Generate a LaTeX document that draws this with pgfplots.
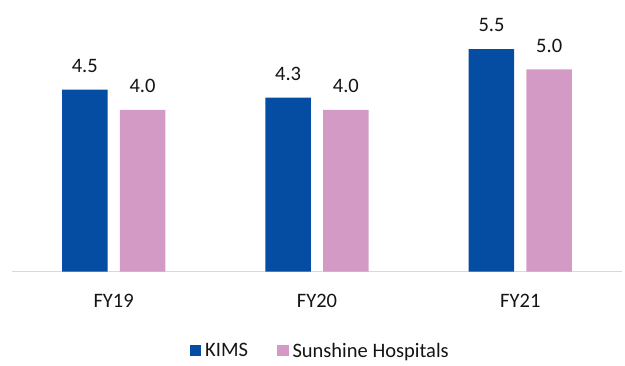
\documentclass[border=0pt]{standalone}
\usepackage{fontspec}
\setmainfont{Carlito}
\usepackage{pgfplots}
\pgfplotsset{compat=1.18}
\definecolor{kims}{RGB}{4,77,162}
\definecolor{sun}{RGB}{212,154,198}
\definecolor{axgray}{RGB}{217,217,217}
\definecolor{txt}{RGB}{20,20,20}
\begin{document}
\begin{tikzpicture}[x=1pt,y=1pt]
\path[use as bounding box] (0,0) rectangle (625,365);
\begin{axis}[
  at={(12pt,93.3pt)}, anchor=south west,
  scale only axis, width=610pt, height=263pt,
  ymin=0, ymax=6.5, xmin=-0.5, xmax=2.5,
  ybar=12.2pt, bar width=45.5pt,
  axis x line*=bottom, axis y line=none,
  x axis line style={draw=axgray, line width=1.5pt, -},
  xtick={0,1,2}, xticklabels={FY19,FY20,FY21}, major tick length=0pt,
  ytick=\empty,
  /pgf/number format/assume math mode=true,
  xticklabel style={font=\fontsize{20.5}{24}\selectfont, text=txt, inner sep=0pt, yshift=-22pt},
  nodes near coords,
  nodes near coords style={font=\fontsize{20.5}{24}\selectfont, text=txt, inner sep=0pt, yshift=17pt, anchor=south,
     /pgf/number format/.cd, fixed, fixed zerofill, precision=1, assume math mode=true},
  legend style={at={(0.507,-0.3015)}, anchor=center, draw=none, fill=none,
     font=\fontsize{20.5}{24}\selectfont, text=txt, legend columns=2,
     /tikz/every even column/.append style={column sep=25pt},
     nodes={inner xsep=4pt}},
  legend image code/.code={\fill[#1] (0pt,-5.5pt) rectangle (11.5pt,6pt);},
  clip=false,
]
\addplot[fill=kims, draw=none] coordinates {(0,4.5) (1,4.3) (2,5.5)};
\addplot[fill=sun, draw=none] coordinates {(0,4.0) (1,4.0) (2,5.0)};
\legend{KIMS, Sunshine Hospitals}
\end{axis}
\end{tikzpicture}
\end{document}
